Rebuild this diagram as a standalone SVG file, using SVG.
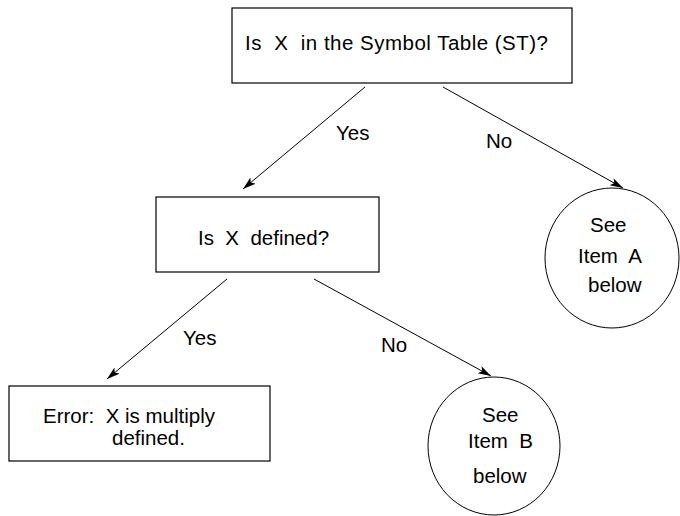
<svg xmlns="http://www.w3.org/2000/svg" width="680" height="516" viewBox="0 0 680 516">
<style>
  .box { fill: #fff; stroke: #000; stroke-width: 1.2; }
  .circ { fill: #fff; stroke: #000; stroke-width: 1; }
  .t { font-family: "Liberation Sans", Arial, sans-serif; font-size: 20.5px; fill: #000; white-space: pre; }
  .edge { stroke: #000; stroke-width: 1; fill: none; marker-end: url(#arr); }
</style>
<defs>
  <marker id="arr" markerUnits="userSpaceOnUse" markerWidth="14" markerHeight="10" refX="13" refY="4" orient="auto">
    <path d="M0,0 L13,4 L0,8 L3,4 z" fill="#000"/>
  </marker>
</defs>
<rect width="680" height="516" fill="#fff"/>
<g id="connectors">
  <line class="edge" x1="365" y1="87" x2="243" y2="189"/>
  <line class="edge" x1="443" y1="87" x2="623" y2="188"/>
  <line class="edge" x1="227" y1="279" x2="107" y2="379"/>
  <line class="edge" x1="314" y1="279" x2="491" y2="376"/>
  <text class="t" x="336" y="140">Yes</text>
  <text class="t" x="486" y="148">No</text>
  <text class="t" x="183" y="345">Yes</text>
  <text class="t" x="381" y="352">No</text>
</g>
<g id="q1">
  <rect class="box" x="232" y="8" width="340" height="75"/>
  <text class="t" x="245" y="50" textLength="303">Is  X  in the Symbol Table (ST)?</text>
</g>
<g id="q2">
  <rect class="box" x="156" y="197" width="223" height="75"/>
  <text class="t" x="198" y="245">Is  X  defined?</text>
</g>
<g id="itemA">
  <ellipse class="circ" cx="612" cy="258" rx="67" ry="70"/>
  <text class="t" x="590" y="232">See</text>
  <text class="t" x="578" y="263">Item  A</text>
  <text class="t" x="588" y="292">below</text>
</g>
<g id="error">
  <rect class="box" x="9" y="386" width="261" height="75"/>
  <text class="t" x="43" y="423">Error:  X is multiply</text>
  <text class="t" x="112" y="445">defined.</text>
</g>
<g id="itemB">
  <ellipse class="circ" cx="494" cy="446" rx="66" ry="69"/>
  <text class="t" x="482" y="422">See</text>
  <text class="t" x="468" y="448">Item  B</text>
  <text class="t" x="473" y="483">below</text>
</g>
</svg>
